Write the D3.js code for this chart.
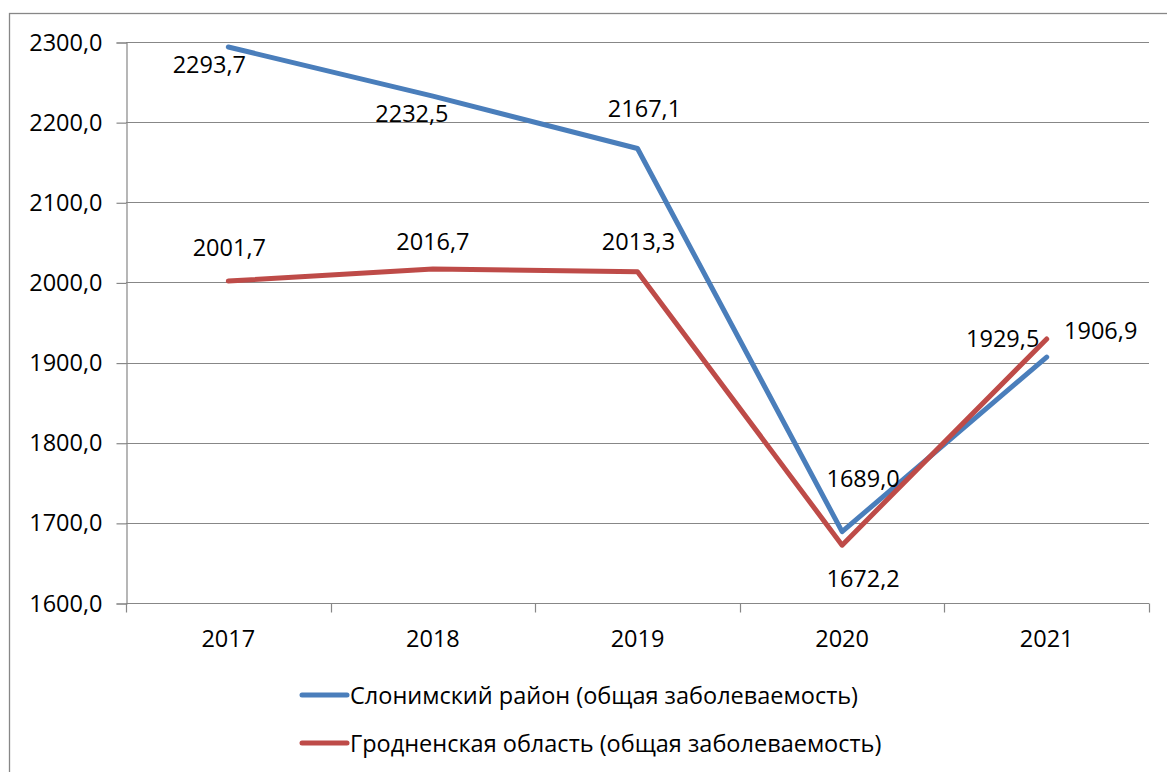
<!DOCTYPE html>
<html><head><meta charset="utf-8">
<script src="https://cdn.jsdelivr.net/npm/d3@7"></script>
<style>body{margin:0;background:#fff}svg{display:block}text{font-family:"Open Sans",sans-serif;fill:#000}</style>
</head><body>
<svg id="c" width="1167" height="772"></svg>
<script>
const years = ["2017","2018","2019","2020","2021"];
const slonim = [2293.7, 2232.5, 2167.1, 1689.0, 1906.9];
const grodno = [2001.7, 2016.7, 2013.3, 1672.2, 1929.5];
const yTicks = [1600,1700,1800,1900,2000,2100,2200,2300];
const seriesNames = ["Слонимский район (общая заболеваемость)", "Гродненская область (общая заболеваемость)"];
// label placement offsets (px) relative to each point
const slonimLabelOff = [[-19,17],[-21,17],[7,-41],[21,-54],[54,-27]];
const grodnoLabelOff = [[1,-34],[0,-28],[1,-31],[21,33],[-44,-1]];

const svg = d3.select("#c");
const FS = 23.5;
const fmt = v => v.toFixed(1).replace(".", ",");
const L = 126, R = 1149, T = 42, B = 603;
const x = d3.scaleBand().domain(years).range([L, R]);
const y = d3.scaleLinear().domain([1600, 2300]).range([B, T]);
const grid = "#878787";

svg.append("rect").attr("x", 9.5).attr("y", 13.5).attr("width", 1300).attr("height", 900)
  .attr("fill", "none").attr("stroke", grid).attr("stroke-width", 1.3);

// gridlines
svg.append("g").selectAll("line").data(yTicks.filter(t => t > 1600)).join("line")
  .attr("x1", L).attr("x2", R).attr("y1", d => Math.round(y(d)) + 0.5).attr("y2", d => Math.round(y(d)) + 0.5)
  .attr("stroke", grid).attr("stroke-width", 1.2);

// y axis
const ya = svg.append("g").attr("transform", `translate(${L + 0.5},0.5)`)
  .call(d3.axisLeft(y).tickValues(yTicks).tickFormat(fmt).tickSize(10).tickPadding(14));
ya.select(".domain").attr("stroke", grid).attr("stroke-width", 1.2);
ya.selectAll(".tick line").attr("stroke", grid).attr("stroke-width", 1.2);
ya.selectAll(".tick text").attr("font-size", FS).attr("font-family", '"Open Sans",sans-serif').attr("fill", "#000");

// x axis
const xa = svg.append("g").attr("transform", `translate(0,${B + 0.5})`);
xa.append("line").attr("x1", L).attr("x2", R).attr("stroke", grid).attr("stroke-width", 1.2);
const bounds = years.map(d => x(d)).concat([R]);
xa.selectAll("line.t").data(bounds).join("line").attr("class", "t")
  .attr("x1", d => Math.round(d) + 0.5).attr("x2", d => Math.round(d) + 0.5).attr("y1", 0).attr("y2", 9)
  .attr("stroke", grid).attr("stroke-width", 1.2);
xa.selectAll("text").data(years).join("text")
  .attr("x", d => x(d) + x.bandwidth() / 2).attr("y", 43).attr("text-anchor", "middle")
  .attr("font-size", FS).text(d => d);

const cx = d => x(d) + x.bandwidth() / 2;
const line = d3.line().x(d => cx(d[0])).y(d => y(d[1]));
const series = [
  {vals: slonim, color: "#4A7EBB", off: slonimLabelOff},
  {vals: grodno, color: "#BE4B48", off: grodnoLabelOff}
];
series.forEach(s => {
  svg.append("path").datum(years.map((yr, i) => [yr, s.vals[i]]))
    .attr("d", line).attr("fill", "none").attr("stroke", s.color)
    .attr("stroke-width", 5).attr("stroke-linecap", "round").attr("stroke-linejoin", "round");
});
series.forEach(s => {
  svg.append("g").selectAll("text").data(years).join("text")
    .attr("x", (d, i) => cx(d) + s.off[i][0])
    .attr("y", (d, i) => y(s.vals[i]) + s.off[i][1])
    .attr("text-anchor", "middle").attr("dominant-baseline", "central")
    .attr("font-size", FS).text((d, i) => fmt(s.vals[i]));
});

// legend
const lg = svg.append("g");
series.forEach((s, i) => {
  const ly = 695 + i * 48;
  lg.append("line").attr("x1", 302).attr("x2", 347).attr("y1", ly).attr("y2", ly)
    .attr("stroke", s.color).attr("stroke-width", 5).attr("stroke-linecap", "round");
  lg.append("text").attr("x", 350).attr("y", ly).attr("dominant-baseline", "central")
    .attr("font-size", FS).text(seriesNames[i]);
});
</script>
</body></html>
